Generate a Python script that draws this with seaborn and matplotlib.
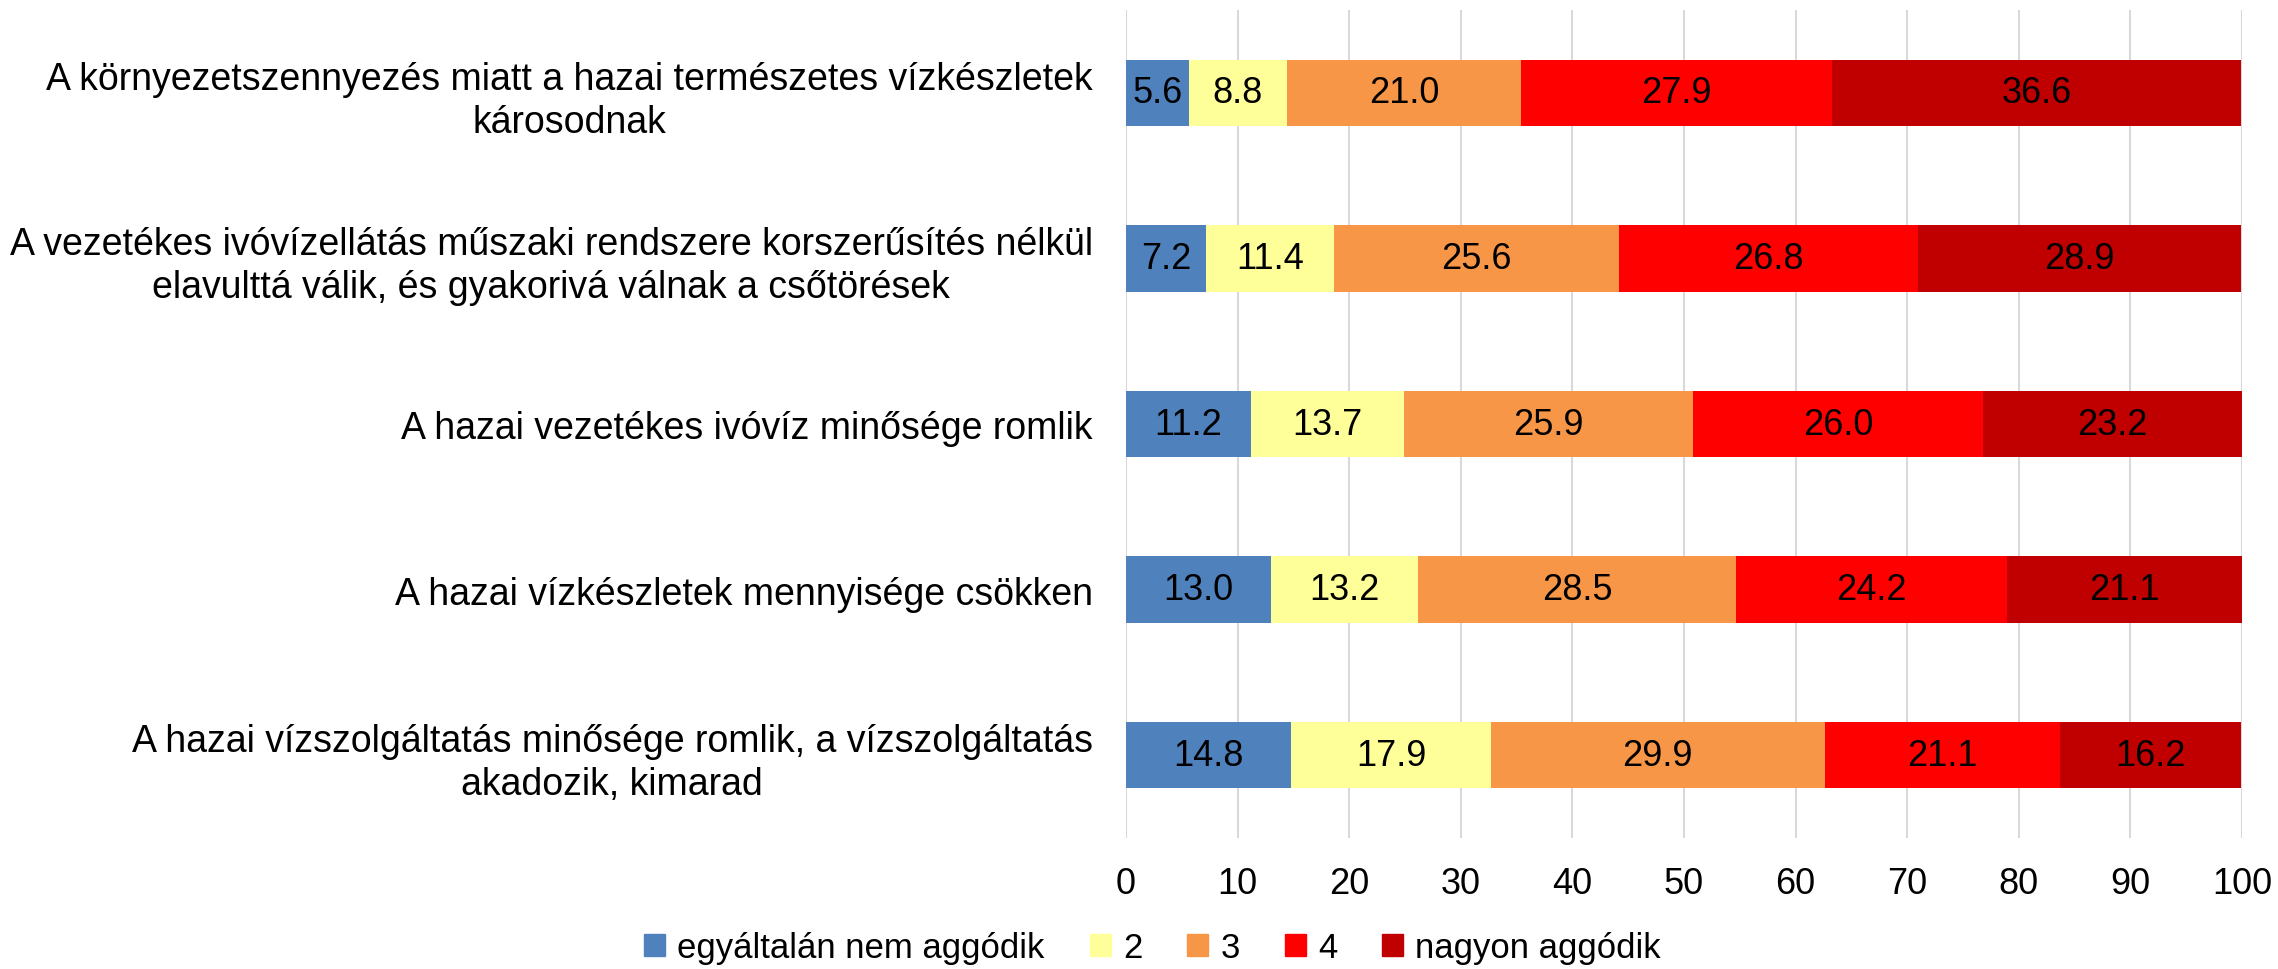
import matplotlib
matplotlib.use('Agg')

import numpy as np
import pandas as pd
from matplotlib import pyplot as plt
import seaborn as sns

# kérdések (fentről lefelé)
kerdesek = [
    'A környezetszennyezés miatt a hazai természetes vízkészletek\nkárosodnak',
    'A vezetékes ivóvízellátás műszaki rendszere korszerűsítés nélkül\nelavulttá válik, és gyakorivá válnak a csőtörések',
    'A hazai vezetékes ivóvíz minősége romlik',
    'A hazai vízkészletek mennyisége csökken',
    'A hazai vízszolgáltatás minősége romlik, a vízszolgáltatás\nakadozik, kimarad',
]
kategoriak = ['egyáltalán nem aggódik', '2', '3', '4', 'nagyon aggódik']

ertek_1 = [5.6, 7.2, 11.2, 13.0, 14.8]
ertek_2 = [8.8, 11.4, 13.7, 13.2, 17.9]
ertek_3 = [21.0, 25.6, 25.9, 28.5, 29.9]
ertek_4 = [27.9, 26.8, 26.0, 24.2, 21.1]
ertek_5 = [36.6, 28.9, 23.2, 21.1, 16.2]

szinek = ['#4F81BD', '#FFFF99', '#F79646', '#FF0000', '#C00000']

df = pd.DataFrame({'kerdes': kerdesek})
sorok = [ertek_1, ertek_2, ertek_3, ertek_4, ertek_5]
for k, v in zip(kategoriak, sorok):
    df[k] = v
kum = df[kategoriak].cumsum(axis=1)

sns.set_style('white')
plt.rcParams['font.family'] = ['Liberation Sans', 'DejaVu Sans']
plt.rcParams['text.color'] = 'black'
plt.rcParams['xtick.color'] = 'black'
plt.rcParams['ytick.color'] = 'black'

fig = plt.figure(figsize=(22.78, 9.70), dpi=100)
ax = fig.add_axes([0.4943, 0.135, 0.4899, 0.8537])

# halmozott sávok: a legnagyobb kumulált értéktől visszafelé rajzolva
for i in range(len(kategoriak) - 1, -1, -1):
    sns.barplot(x=kum[kategoriak[i]], y=df['kerdes'], orient='h', color=szinek[i],
                width=0.4, saturation=1, ax=ax, label=kategoriak[i], linewidth=0)

# értékcímkék a szegmensek közepén
for i, k in enumerate(kategoriak):
    kozep = kum[k] - df[k] / 2
    for j in range(len(df)):
        ax.text(kozep[j], j, '%.1f' % df[k][j], ha='center', va='center',
                fontsize=26, color='black')

ax.set_xlim(0, 100)
ax.set_ylim(4.5, -0.5)
ax.set_xticks(np.arange(0, 101, 10))
ax.set_xlabel('')
ax.set_ylabel('')
ax.grid(axis='x', color='#D9D9D9', linewidth=1.5)
ax.set_axisbelow(True)
for s in ax.spines.values():
    s.set_visible(False)
ax.tick_params(axis='x', length=0, labelsize=26, pad=20)
ax.tick_params(axis='y', length=0, labelsize=27, pad=24)
for t in ax.get_yticklabels():
    t.set_multialignment('center')
    t.set_linespacing(1.25)

if ax.get_legend() is not None:
    ax.get_legend().remove()
handles = [plt.Rectangle((0, 0), 1, 1, color=c) for c in szinek]
fig.legend(handles, kategoriak, loc='center', bbox_to_anchor=(0.506, 0.022), ncol=5,
           frameon=False, fontsize=25, handlelength=0.6, handleheight=0.6,
           handletextpad=0.35, columnspacing=1.3, borderaxespad=0)

plt.savefig('out.png', dpi=100)
